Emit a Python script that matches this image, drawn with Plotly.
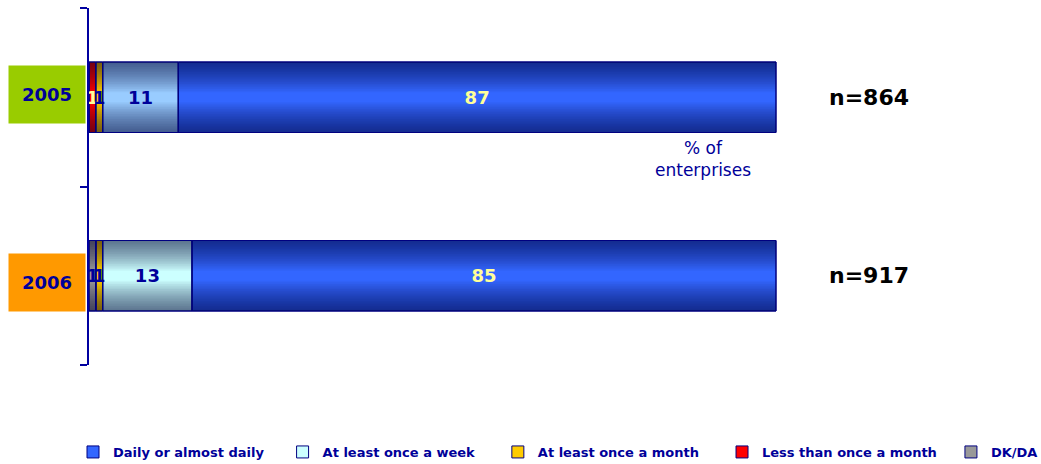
import numpy as np
import plotly.graph_objects as go

# Survey data: share of enterprises (%) by frequency, per year
years = ["2005", "2006"]
sample_sizes = ["n=864", "n=917"]
series_names = [
    "DK/DA",
    "Less than once a month",
    "At least once a month",
    "At least once a week",
    "Daily or almost daily",
]
dk_da = [0, 1]
less_monthly = [1, 0]
monthly = [1, 1]
weekly = [11, 13]
daily = [87, 85]
series_values = [dk_da, less_monthly, monthly, weekly, daily]

# Styling
NAVY = "#000099"
LINE = "#000080"
FONT = "DejaVu Sans"
year_colors = ["#99CC00", "#FF9900"]
fill_colors = {
    "DK/DA": ["#999999", "#999999"],
    "Less than once a month": ["#FF0000", "#FF0000"],
    "At least once a month": ["#FFCC00", "#FFCC00"],
    "At least once a week": ["#99CCFF", "#CCFFFF"],
    "Daily or almost daily": ["#3366FF", "#3366FF"],
}
label_colors = {
    "DK/DA": [NAVY, NAVY],
    "Less than once a month": ["#FFFF99", "#FFFF99"],
    "At least once a month": [NAVY, NAVY],
    "At least once a week": [NAVY, NAVY],
    "Daily or almost daily": ["#FFFF99", "#FFFF99"],
}
# trailing non-breaking spaces widen the gap after each legend entry
legend_pad = {
    "DK/DA": 0,
    "Less than once a month": 2,
    "At least once a month": 4,
    "At least once a week": 4,
    "Daily or almost daily": 3,
}
BAR_W = 0.395

vals = np.array(series_values, dtype=float)
bases = np.vstack([np.zeros(len(years)), np.cumsum(vals, axis=0)[:-1]])
totals = vals.sum(axis=0)

# 2006 listed first inside each trace so the legend swatch takes its colour
order = [1, 0]

fig = go.Figure()

# Base fills (carry the legend entries)
for i, name in enumerate(series_names):
    fig.add_trace(go.Bar(
        name=name + "\u00a0" * legend_pad[name],
        orientation="h",
        y=[k for k in order],
        x=[vals[i][k] for k in order],
        base=[bases[i][k] for k in order],
        width=BAR_W,
        marker=dict(color=[fill_colors[name][k] for k in order],
                    line=dict(color=LINE, width=1)),
        hoverinfo="skip",
    ))

# Shading bands toward the top and bottom edges for a cylinder look
n_bands = 18
depth = 0.17
for b in range(1, n_bands + 1):
    d = depth * b / n_bands
    for off in (-BAR_W / 2, BAR_W / 2 - d):
        fig.add_trace(go.Bar(
            orientation="h",
            y=list(range(len(years))),
            x=totals,
            base=[0] * len(years),
            width=d,
            offset=off,
            marker=dict(color="rgba(0,0,40,0.04)", line=dict(width=0)),
            showlegend=False,
            hoverinfo="skip",
        ))

# Outlines and value labels on top
for i, name in enumerate(series_names):
    fig.add_trace(go.Bar(
        orientation="h",
        y=list(range(len(years))),
        x=vals[i],
        base=bases[i],
        width=BAR_W,
        marker=dict(color="rgba(0,0,0,0)", line=dict(color=LINE, width=1)),
        text=[f"{v:g}" if v else "" for v in vals[i]],
        textposition="inside",
        insidetextanchor="middle",
        textangle=0,
        textfont=dict(family=FONT, size=18, color=label_colors[name],
                      weight="bold"),
        showlegend=False,
        hoverinfo="skip",
    ))

# Year boxes on the left and sample sizes on the right
box_shift = [3, -7]
for k, yr in enumerate(years):
    fig.add_annotation(
        xref="paper", yref="y", x=(47 - 89) / 952, y=k,
        text=f"<b>{yr}</b>", showarrow=False,
        xanchor="center", yanchor="middle", yshift=box_shift[k],
        width=76, height=57, borderpad=0, bgcolor=year_colors[k],
        font=dict(family=FONT, size=18, color=NAVY),
    )
    fig.add_annotation(
        xref="x", yref="y", x=113.5, y=k,
        text=f"<b>{sample_sizes[k]}</b>", showarrow=False,
        xanchor="center", yanchor="middle",
        font=dict(family=FONT, size=22, color="#000000"),
    )

fig.add_annotation(
    xref="x", yref="y", x=89.4, y=0.346,
    text="% of<br>enterprises", showarrow=False,
    xanchor="center", yanchor="middle",
    font=dict(family=FONT, size=17, color=NAVY),
)

fig.update_layout(
    width=1041, height=464,
    margin=dict(l=89, r=0, t=8, b=99, autoexpand=False),
    paper_bgcolor="white", plot_bgcolor="white",
    barmode="overlay",
    uniformtext=dict(minsize=18, mode="show"),
    showlegend=True,
    legend=dict(
        orientation="h", traceorder="reversed",
        xref="paper", yref="paper",
        x=-16 / 952, y=-(452 - 365) / 357,
        xanchor="left", yanchor="middle",
        font=dict(family=FONT, size=13, color=NAVY, weight="bold"),
        bgcolor="rgba(0,0,0,0)",
    ),
    xaxis=dict(range=[0, 952 / 6.87], visible=False, fixedrange=True),
    yaxis=dict(
        range=[1.5, -0.5],
        showline=True, linecolor="#0000A0", linewidth=1.5,
        ticks="outside", ticklen=7, tickcolor="#0000A0", tickwidth=1.5,
        tickmode="array", tickvals=[-0.5, 0.5, 1.5],
        showticklabels=False, showgrid=False, zeroline=False,
    ),
)

fig.write_html("out.html")
